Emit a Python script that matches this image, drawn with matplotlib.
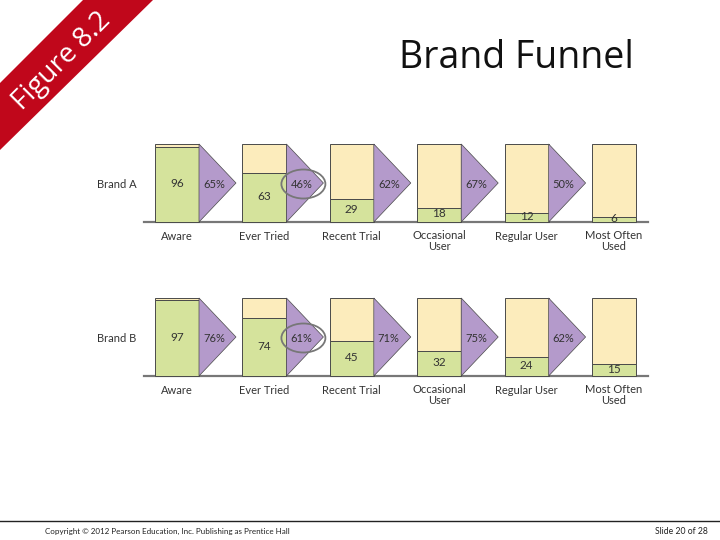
import matplotlib
matplotlib.use("Agg")
import matplotlib.pyplot as plt
from matplotlib.patches import Polygon, Rectangle, Ellipse

plt.rcParams['font.family'] = ['Lato', 'DejaVu Sans']

# Data
stages = ["Aware", "Ever Tried", "Recent Trial", "Occasional\nUser", "Regular User", "Most Often\nUsed"]
brand_a = [96, 63, 29, 18, 12, 6]
brand_b = [97, 74, 45, 32, 24, 15]
conv_a = ["65%", "46%", "62%", "67%", "50%"]
conv_b = ["76%", "61%", "71%", "75%", "62%"]
brands = ["Brand A", "Brand B"]

GREEN = "#d5e39c"
CREAM = "#fcecbc"
PURPLE = "#b49acb"
EDGE = "#4a4a4a"

fig = plt.figure(figsize=(7.2, 5.4), dpi=100)
ax = fig.add_axes([0, 0, 1, 1])
ax.set_xlim(0, 720)
ax.set_ylim(540, 0)
ax.axis("off")

# slide ribbon
ax.add_patch(Polygon([(0, 83), (83, 0), (153, 0), (0, 150)], closed=True,
                     facecolor="#c0071b", edgecolor="none"))
ax.text(62, 61, "Figure 8.2", rotation=45, color="white", fontsize=20,
        ha="center", va="center", rotation_mode="anchor",
        family=["Open Sans", "DejaVu Sans"])

ax.text(516, 58, "Brand Funnel", fontsize=27, ha="center", va="center",
        family=["Open Sans", "DejaVu Sans"], color="#111111")

x0, step, w = 155, 87.4, 44
height = 78
tri_w = 37


def draw_row(base, values, convs, name):
    top = base - height
    ax.plot([144, 648], [base, base], color="#777777", lw=1.6, zorder=1)
    ax.text(117, base - 37, name, fontsize=8, ha="center", va="center", color="#333333")
    for i, (v, lab) in enumerate(zip(values, stages)):
        left = x0 + i * step
        g_top = base - v / 100 * height
        ax.add_patch(Rectangle((left, top), w, g_top - top, facecolor=CREAM,
                               edgecolor=EDGE, lw=0.7, zorder=2))
        ax.add_patch(Rectangle((left, g_top), w, base - g_top, facecolor=GREEN,
                               edgecolor=EDGE, lw=0.7, zorder=2))
        ax.text(left + w / 2, (g_top + base) / 2 - 1, str(v), fontsize=8.5,
                ha="center", va="center", color="#333333", zorder=4)
        if "\n" in lab:
            ax.text(left + w / 2, base + 19, lab, fontsize=8, ha="center", va="center",
                    linespacing=1.05, color="#333333")
        else:
            ax.text(left + w / 2, base + 14, lab, fontsize=8, ha="center", va="center",
                    color="#333333")
        if i < len(convs):
            r = left + w
            ax.add_patch(Polygon([(r, top), (r + tri_w, base - height / 2), (r, base)],
                                 closed=True, facecolor=PURPLE, edgecolor=EDGE,
                                 lw=0.5, zorder=3))
            ax.text(r + 15, base - height / 2 + 1, convs[i], fontsize=8, ha="center",
                    va="center", color="#333333", zorder=4)
            if i == 1:
                ax.add_patch(Ellipse((r + 17, base - height / 2 + 1), 44, 29,
                                     facecolor="none", edgecolor="#777777",
                                     lw=1.3, zorder=5))


draw_row(222, brand_a, conv_a, brands[0])
draw_row(376, brand_b, conv_b, brands[1])

# footer
ax.plot([0, 720], [521, 521], color="#222222", lw=1)
ax.text(45, 531, "Copyright © 2012 Pearson Education, Inc. Publishing as Prentice Hall",
        fontsize=5.8, ha="left", va="center", color="#222222")
ax.text(708, 531, "Slide 20 of 28", fontsize=6.2, ha="right", va="center", color="#222222")

fig.savefig("out.png", dpi=100)
